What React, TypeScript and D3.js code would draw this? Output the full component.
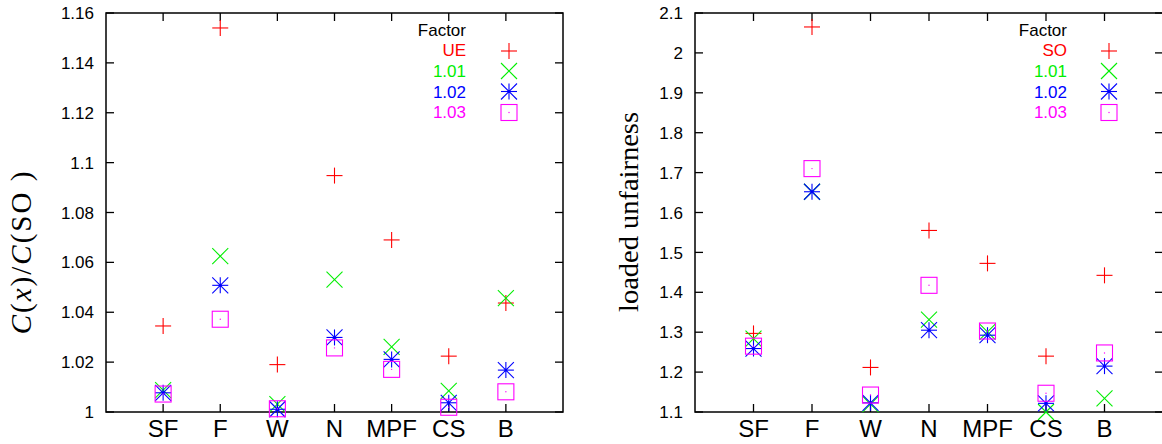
import React from "react";
import * as d3 from "d3";

const categories = ["SF", "F", "W", "N", "MPF", "CS", "B"];

// Left panel: C(x)/C(SO)
const leftUE = [1.0345, 1.154, 1.019, 1.0948, 1.069, 1.0224, 1.0437];
const left101 = [1.0088, 1.0625, 1.0032, 1.0531, 1.0261, 1.0085, 1.0457];
const left102 = [1.0077, 1.0508, 1.0011, 1.0299, 1.0211, 1.0037, 1.0168];
const left103 = [1.0072, 1.0372, 1.0013, 1.0257, 1.0171, 1.0019, 1.0081];
const leftTicks = [1, 1.02, 1.04, 1.06, 1.08, 1.1, 1.12, 1.14, 1.16];
const leftLabels = ["UE", "1.01", "1.02", "1.03"];

// Right panel: loaded unfairness
const rightSO = [1.297, 2.065, 1.2117, 1.555, 1.4725, 1.24, 1.4425];
const right101 = [1.284, 1.652, 1.12, 1.3317, 1.3008, 1.1, 1.134];
const right102 = [1.259, 1.652, 1.123, 1.305, 1.2925, 1.1217, 1.215];
const right103 = [1.265, 1.71, 1.1425, 1.4175, 1.303, 1.147, 1.248];
const rightTicks = [1.1, 1.2, 1.3, 1.4, 1.5, 1.6, 1.7, 1.8, 1.9, 2, 2.1];
const rightLabels = ["SO", "1.01", "1.02", "1.03"];

const colors = ["#ff0000", "#00ee00", "#0000ff", "#ff00ff"];
const shapes = ["plus", "cross", "star", "square"];
const FONT = "'Liberation Sans', Arial, sans-serif";
const SERIF = "'Liberation Serif', 'DejaVu Serif', serif";

function Marker({ shape, x, y, color }: { shape: string; x: number; y: number; color: string }) {
  const s = 8;
  const sw = 1.1;
  if (shape === "plus") {
    return (
      <g stroke={color} strokeWidth={sw}>
        <line x1={x - s} y1={y} x2={x + s} y2={y} />
        <line x1={x} y1={y - s} x2={x} y2={y + s} />
      </g>
    );
  }
  if (shape === "cross") {
    return (
      <g stroke={color} strokeWidth={sw}>
        <line x1={x - s} y1={y - s} x2={x + s} y2={y + s} />
        <line x1={x - s} y1={y + s} x2={x + s} y2={y - s} />
      </g>
    );
  }
  if (shape === "star") {
    return (
      <g stroke={color} strokeWidth={sw}>
        <line x1={x - s} y1={y} x2={x + s} y2={y} />
        <line x1={x} y1={y - s} x2={x} y2={y + s} />
        <line x1={x - s} y1={y - s} x2={x + s} y2={y + s} />
        <line x1={x - s} y1={y + s} x2={x + s} y2={y - s} />
        <circle cx={x} cy={y} r={1.5} fill={color} stroke="none" />
      </g>
    );
  }
  return (
    <g stroke={color} strokeWidth={sw} fill="none">
      <rect x={x - s} y={y - s} width={2 * s} height={2 * s} />
      <circle cx={x} cy={y} r={0.7} fill={color} stroke="none" />
    </g>
  );
}

type PanelProps = {
  x0: number;
  x1: number;
  domain: [number, number];
  ticks: number[];
  series: number[][];
  labels: string[];
  legendTextX: number;
  legendMarkX: number;
  fmt: (v: number) => string;
};

function Panel({ x0, x1, domain, ticks, series, labels, legendTextX, legendMarkX, fmt }: PanelProps) {
  const top = 13;
  const bottom = 412;
  const xs = d3.scaleLinear().domain([-1, 7]).range([x0, x1]);
  const ys = d3.scaleLinear().domain(domain).range([bottom, top]);
  const tl = 8;
  const legendMarkY = [51, 71, 91.5, 112.5];
  const legendTextY = [56, 77, 97.5, 118];
  return (
    <g>
      <rect x={x0} y={top} width={x1 - x0} height={bottom - top} fill="none" stroke="#000" strokeWidth={1.5} />
      {ticks.map((t) => (
        <g key={"y" + t}>
          <line x1={x0} x2={x0 + tl} y1={ys(t)} y2={ys(t)} stroke="#000" strokeWidth={1.3} />
          <line x1={x1} x2={x1 - tl} y1={ys(t)} y2={ys(t)} stroke="#000" strokeWidth={1.3} />
          <text x={x0 - 12} y={ys(t)} dy="0.36em" textAnchor="end" fontFamily={FONT} fontSize={17} fill="#000">
            {fmt(t)}
          </text>
        </g>
      ))}
      {categories.map((c, i) => (
        <g key={"x" + c}>
          <line x1={xs(i)} x2={xs(i)} y1={bottom} y2={bottom - tl} stroke="#000" strokeWidth={1.3} />
          <line x1={xs(i)} x2={xs(i)} y1={top} y2={top + tl} stroke="#000" strokeWidth={1.3} />
          <text x={xs(i)} y={437} textAnchor="middle" fontFamily={FONT} fontSize={24} fill="#000">
            {c}
          </text>
        </g>
      ))}
      <text x={legendTextX} y={36} textAnchor="end" fontFamily={FONT} fontSize={17} fill="#000">
        Factor
      </text>
      {labels.map((l, k) => (
        <g key={"lg" + k}>
          <text x={legendTextX} y={legendTextY[k]} textAnchor="end" fontFamily={FONT} fontSize={17} fill={colors[k]}>
            {l}
          </text>
          <Marker shape={shapes[k]} x={legendMarkX} y={legendMarkY[k]} color={colors[k]} />
        </g>
      ))}
      {series.map((vals, k) => (
        <g key={"s" + k}>
          {vals.map((v, i) => (
            <Marker key={i} shape={shapes[k]} x={xs(i)} y={ys(v)} color={colors[k]} />
          ))}
        </g>
      ))}
    </g>
  );
}

export default function App() {
  const fmtLeft = (v: number) => d3.format("")(+v.toFixed(2));
  const fmtRight = (v: number) => d3.format("")(+v.toFixed(1));
  return (
    <svg width={1162} height={444} style={{ position: "absolute", left: 0, top: 0, background: "#fff" }}>
      <rect x={0} y={0} width={1162} height={444} fill="#fff" />
      <Panel
        x0={106}
        x1={563}
        domain={[1, 1.16]}
        ticks={leftTicks}
        series={[leftUE, left101, left102, left103]}
        labels={leftLabels}
        legendTextX={466}
        legendMarkX={509}
        fmt={fmtLeft}
      />
      <Panel
        x0={695}
        x1={1163}
        domain={[1.1, 2.1]}
        ticks={rightTicks}
        series={[rightSO, right101, right102, right103]}
        labels={rightLabels}
        legendTextX={1067}
        legendMarkX={1109}
        fmt={fmtRight}
      />
      <text
        transform="translate(31,252) rotate(-90)"
        textAnchor="middle"
        fontFamily={SERIF}
        fontSize={29}
        fill="#000"
        letterSpacing={2}
      >
        <tspan fontStyle="italic">C</tspan>(<tspan fontStyle="italic">x</tspan>)/<tspan fontStyle="italic">C</tspan>(SO )
      </text>
      <text
        transform="translate(638,212) rotate(-90)"
        textAnchor="middle"
        fontFamily={SERIF}
        fontSize={27}
        fill="#000"
        textLength={200}
        lengthAdjust="spacingAndGlyphs"
      >
        loaded unfairness
      </text>
    </svg>
  );
}
